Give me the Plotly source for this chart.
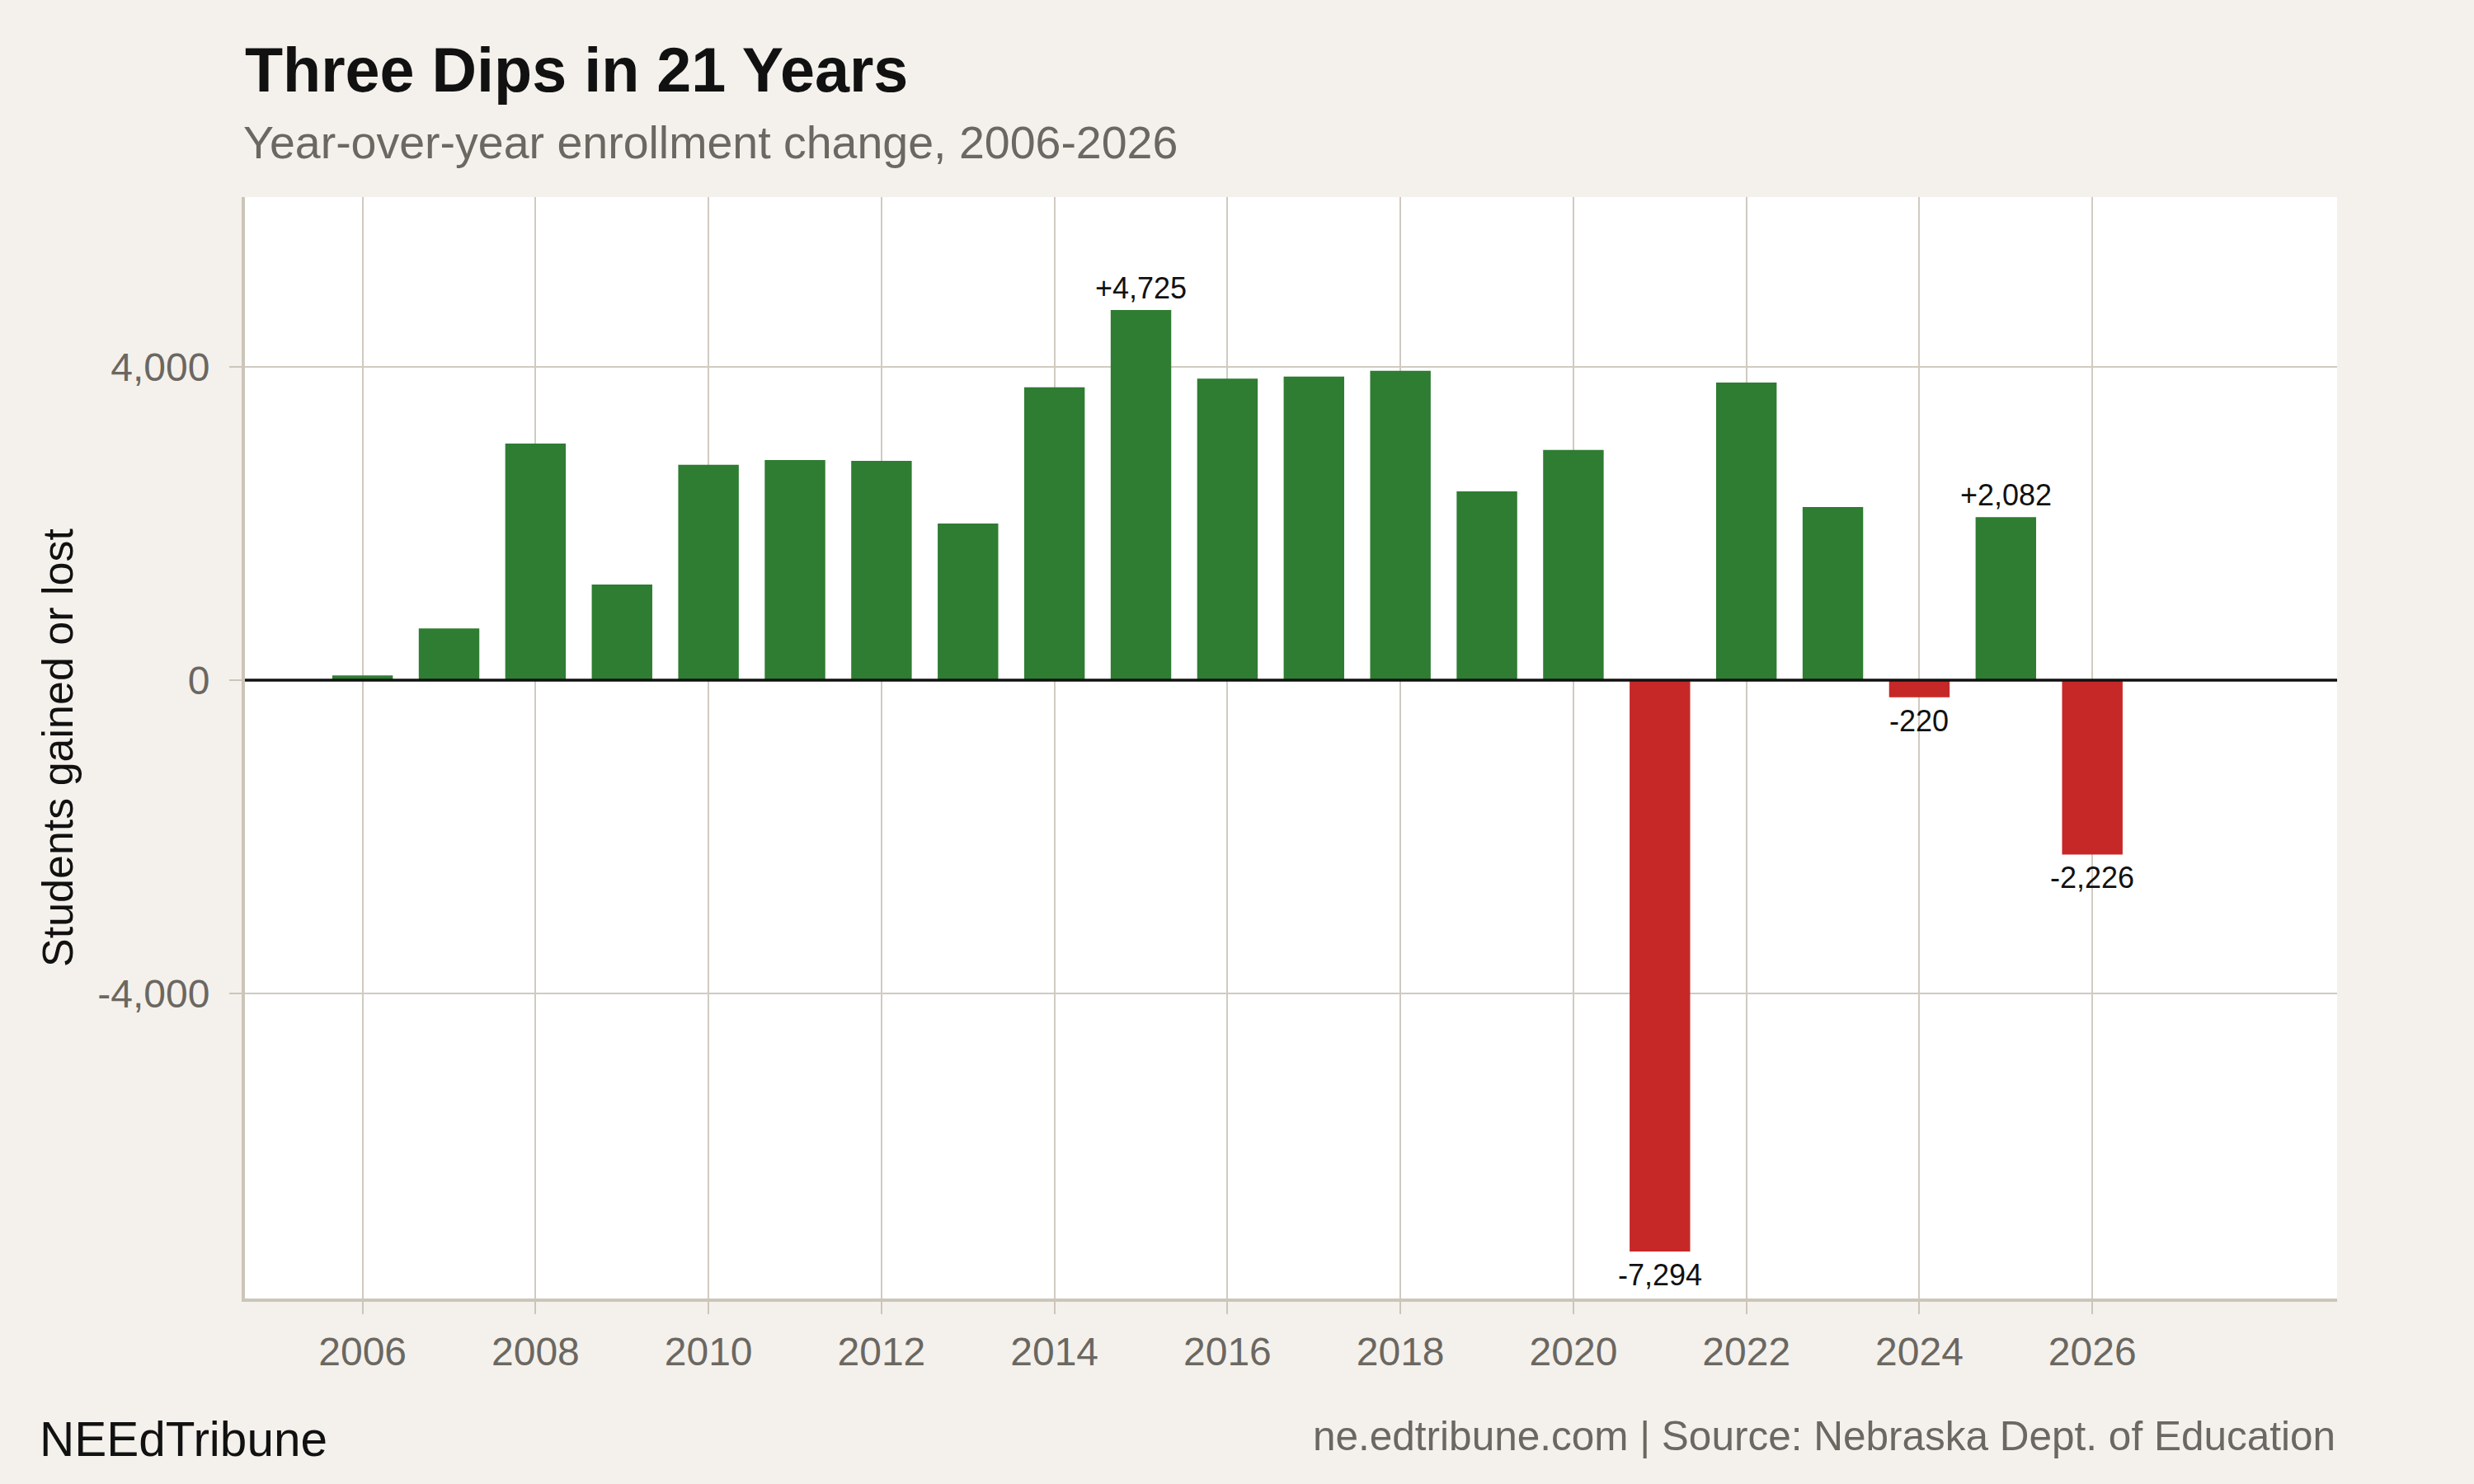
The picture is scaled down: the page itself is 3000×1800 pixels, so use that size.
import plotly.graph_objects as go

# year-over-year change in enrollment (students)
years = list(range(2006, 2027))
change = [60, 660, 3020, 1220, 2750, 2810, 2800, 2000, 3740, 4725,
          3850, 3875, 3950, 2410, 2940, -7294, 3800, 2210, -220, 2082, -2226]

# bars that get a value label
labelled_years = [2015, 2021, 2024, 2025, 2026]

x_tick_years = [2006, 2008, 2010, 2012, 2014, 2016, 2018, 2020, 2022, 2024, 2026]
y_tick_vals = [-4000, 0, 4000]
y_tick_text = ['-4,000', '0', '4,000']

GREEN = '#2E7D32'
RED = '#C62828'
GRID = '#D0CAC1'
AXIS = '#CCC5B9'
GREY_TXT = '#6B6761'
FONT = 'Liberation Sans, Arial, sans-serif'

bar_colors = [GREEN if v >= 0 else RED for v in change]

fig = go.Figure()
fig.add_trace(go.Bar(x=years, y=change, width=0.7,
                     marker=dict(color=bar_colors, line=dict(width=0)),
                     hoverinfo='x+y'))

# value labels above / below selected bars
for yr, v in zip(years, change):
    if yr not in labelled_years:
        continue
    txt = ('+' if v > 0 else '-') + '{:,}'.format(abs(v))
    fig.add_annotation(x=yr, y=v, text=txt, showarrow=False,
                       xanchor='center',
                       yanchor='bottom' if v > 0 else 'top',
                       yshift=4 if v > 0 else -6,
                       font=dict(family=FONT, size=36, color='#111111'))

fig.update_layout(
    width=3000, height=1800, autosize=False,
    paper_bgcolor='#F4F1EC', plot_bgcolor='#FFFFFF',
    margin=dict(l=297, r=166, t=239, b=225),
    showlegend=False,
    bargap=0.3,
    font=dict(family=FONT, size=48, color=GREY_TXT),
    title=dict(text='<b>Three Dips in 21 Years</b>',
               x=297 / 3000, xanchor='left', xref='container',
               y=1 - 58 / 1800, yanchor='top', yref='container',
               font=dict(family=FONT, size=75.5, color='#111111')),
)

fig.update_xaxes(range=[2004.64, 2028.83], tickvals=x_tick_years,
                 ticktext=[str(v) for v in x_tick_years],
                 showgrid=True, gridcolor=GRID, gridwidth=2,
                 showline=True, linecolor=AXIS, linewidth=4,
                 ticks='outside', ticklen=15, tickwidth=2, tickcolor=AXIS,
                 ticklabelstandoff=4,
                 tickfont=dict(size=48, color=GREY_TXT), zeroline=False)
fig.update_yaxes(range=[-7895, 6168], tickvals=y_tick_vals, ticktext=y_tick_text,
                 showgrid=True, gridcolor=GRID, gridwidth=2,
                 showline=True, linecolor=AXIS, linewidth=4,
                 ticks='outside', ticklen=15, tickwidth=2, tickcolor=AXIS,
                 ticklabelstandoff=14,
                 tickfont=dict(size=48, color=GREY_TXT), zeroline=False)

# black baseline at zero, drawn over the bars
fig.add_shape(type='line', xref='paper', x0=0, x1=1, yref='y', y0=0, y1=0,
              line=dict(color='#111111', width=3.5), layer='above')

# subtitle
fig.add_annotation(text='Year-over-year enrollment change, 2006-2026',
                   xref='paper', yref='paper', x=0, y=(1575 - 140) / 1336,
                   xanchor='left', yanchor='top', showarrow=False, xshift=-4,
                   font=dict(family=FONT, size=55.5, color=GREY_TXT))

# y axis title
fig.add_annotation(text='Students gained or lost', textangle=-90,
                   xref='paper', yref='paper', x=(70 - 297) / 2537, y=0.5,
                   xanchor='center', yanchor='middle', showarrow=False,
                   font=dict(family=FONT, size=52, color='#111111'))

# footer
fig.add_annotation(text='NEEdTribune', xref='paper', yref='paper',
                   x=(46 - 297) / 2537, y=(1575 - 1780) / 1336,
                   xanchor='left', yanchor='bottom', showarrow=False,
                   font=dict(family=FONT, size=58.5, color='#111111'))
fig.add_annotation(text='ne.edtribune.com | Source: Nebraska Dept. of Education',
                   xref='paper', yref='paper',
                   x=1, y=(1575 - 1771) / 1336,
                   xanchor='right', yanchor='bottom', showarrow=False,
                   font=dict(family=FONT, size=49.5, color=GREY_TXT))

fig.write_html("out.html", config={'displayModeBar': False},
               post_script="document.body.style.margin='0';"
                           "document.body.style.background='#F4F1EC';")
